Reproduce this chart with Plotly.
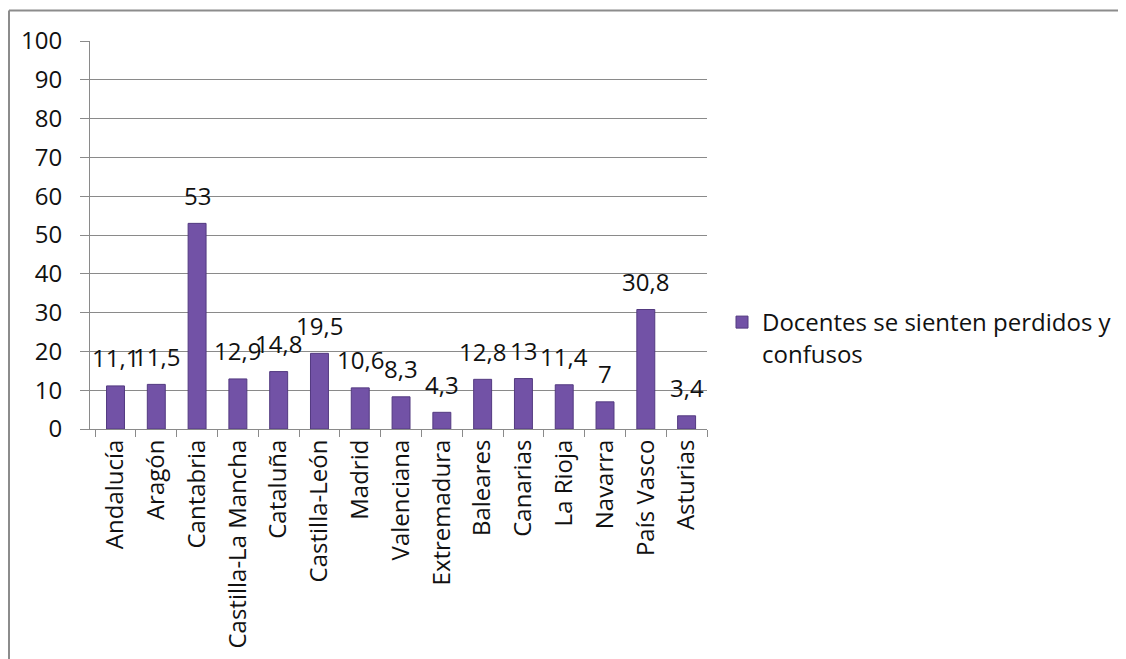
import plotly.graph_objects as go

categories = ["Andalucía", "Aragón", "Cantabria", "Castilla-La Mancha", "Cataluña",
              "Castilla-León", "Madrid", "Valenciana", "Extremadura", "Baleares",
              "Canarias", "La Rioja", "Navarra", "País Vasco", "Asturias"]
values = [11.1, 11.5, 53, 12.9, 14.8, 19.5, 10.6, 8.3, 4.3, 12.8, 13, 11.4, 7, 30.8, 3.4]
series_name = "Docentes se sienten perdidos y<br>confusos"
y_ticks = [0, 10, 20, 30, 40, 50, 60, 70, 80, 90, 100]

FONT = "'Open Sans', Lato, sans-serif"
GRID = "#8a8a8a"
FS = 24

fig = go.Figure()
fig.add_trace(go.Bar(
    x=categories, y=values, name=series_name,
    marker=dict(color="#7252a6", line=dict(color="#533a80", width=1)),
    showlegend=True,
))

for c, v in zip(categories, values):
    fig.add_annotation(x=c, y=v, text=str(v).replace(".", ","), showarrow=False,
                       yanchor="middle", yshift=28,
                       font=dict(family=FONT, size=FS, color="#111111"))

# chart frame (plot area spans 617 x 388 px)
fig.add_shape(type="line", xref="paper", yref="paper",
              x0=(9 - 90) / 617, x1=(1140 - 90) / 617,
              y0=(429 - 10.5) / 388, y1=(429 - 10.5) / 388,
              line=dict(color="#8c8c8c", width=2))
fig.add_shape(type="line", xref="paper", yref="paper",
              x0=(9 - 90) / 617, x1=(9 - 90) / 617,
              y0=(429 - 10.5) / 388, y1=(429 - 680) / 388,
              line=dict(color="#8c8c8c", width=2))

fig.update_layout(
    width=1126, height=659,
    margin=dict(l=82, r=1126 - 699, t=33, b=659 - 421),
    paper_bgcolor="white", plot_bgcolor="white",
    bargap=0.56,
    font=dict(family=FONT, size=FS, color="#111111"),
    legend=dict(x=(722 - 90) / 617, y=(429 - 300) / 388, xanchor="left", yanchor="top",
                valign="top", font=dict(family=FONT, size=FS, color="#111111"),
                itemwidth=30, bgcolor="rgba(0,0,0,0)"),
    xaxis=dict(
        tickangle=-90, tickson="boundaries", ticks="outside", ticklen=7,
        tickcolor=GRID, showline=True, linecolor=GRID, linewidth=1,
        showgrid=False, tickfont=dict(family=FONT, size=FS, color="#111111"),
        fixedrange=True,
    ),
    yaxis=dict(
        range=[0, 100], tickvals=y_ticks, ticks="outside", ticklen=9,
        tickcolor=GRID, showline=True, linecolor=GRID, linewidth=1,
        showgrid=True, gridcolor=GRID, gridwidth=1, zeroline=False,
        tickfont=dict(family=FONT, size=FS, color="#111111"),
        ticklabelstandoff=13,
    ),
)

fig.write_html("out.html")
